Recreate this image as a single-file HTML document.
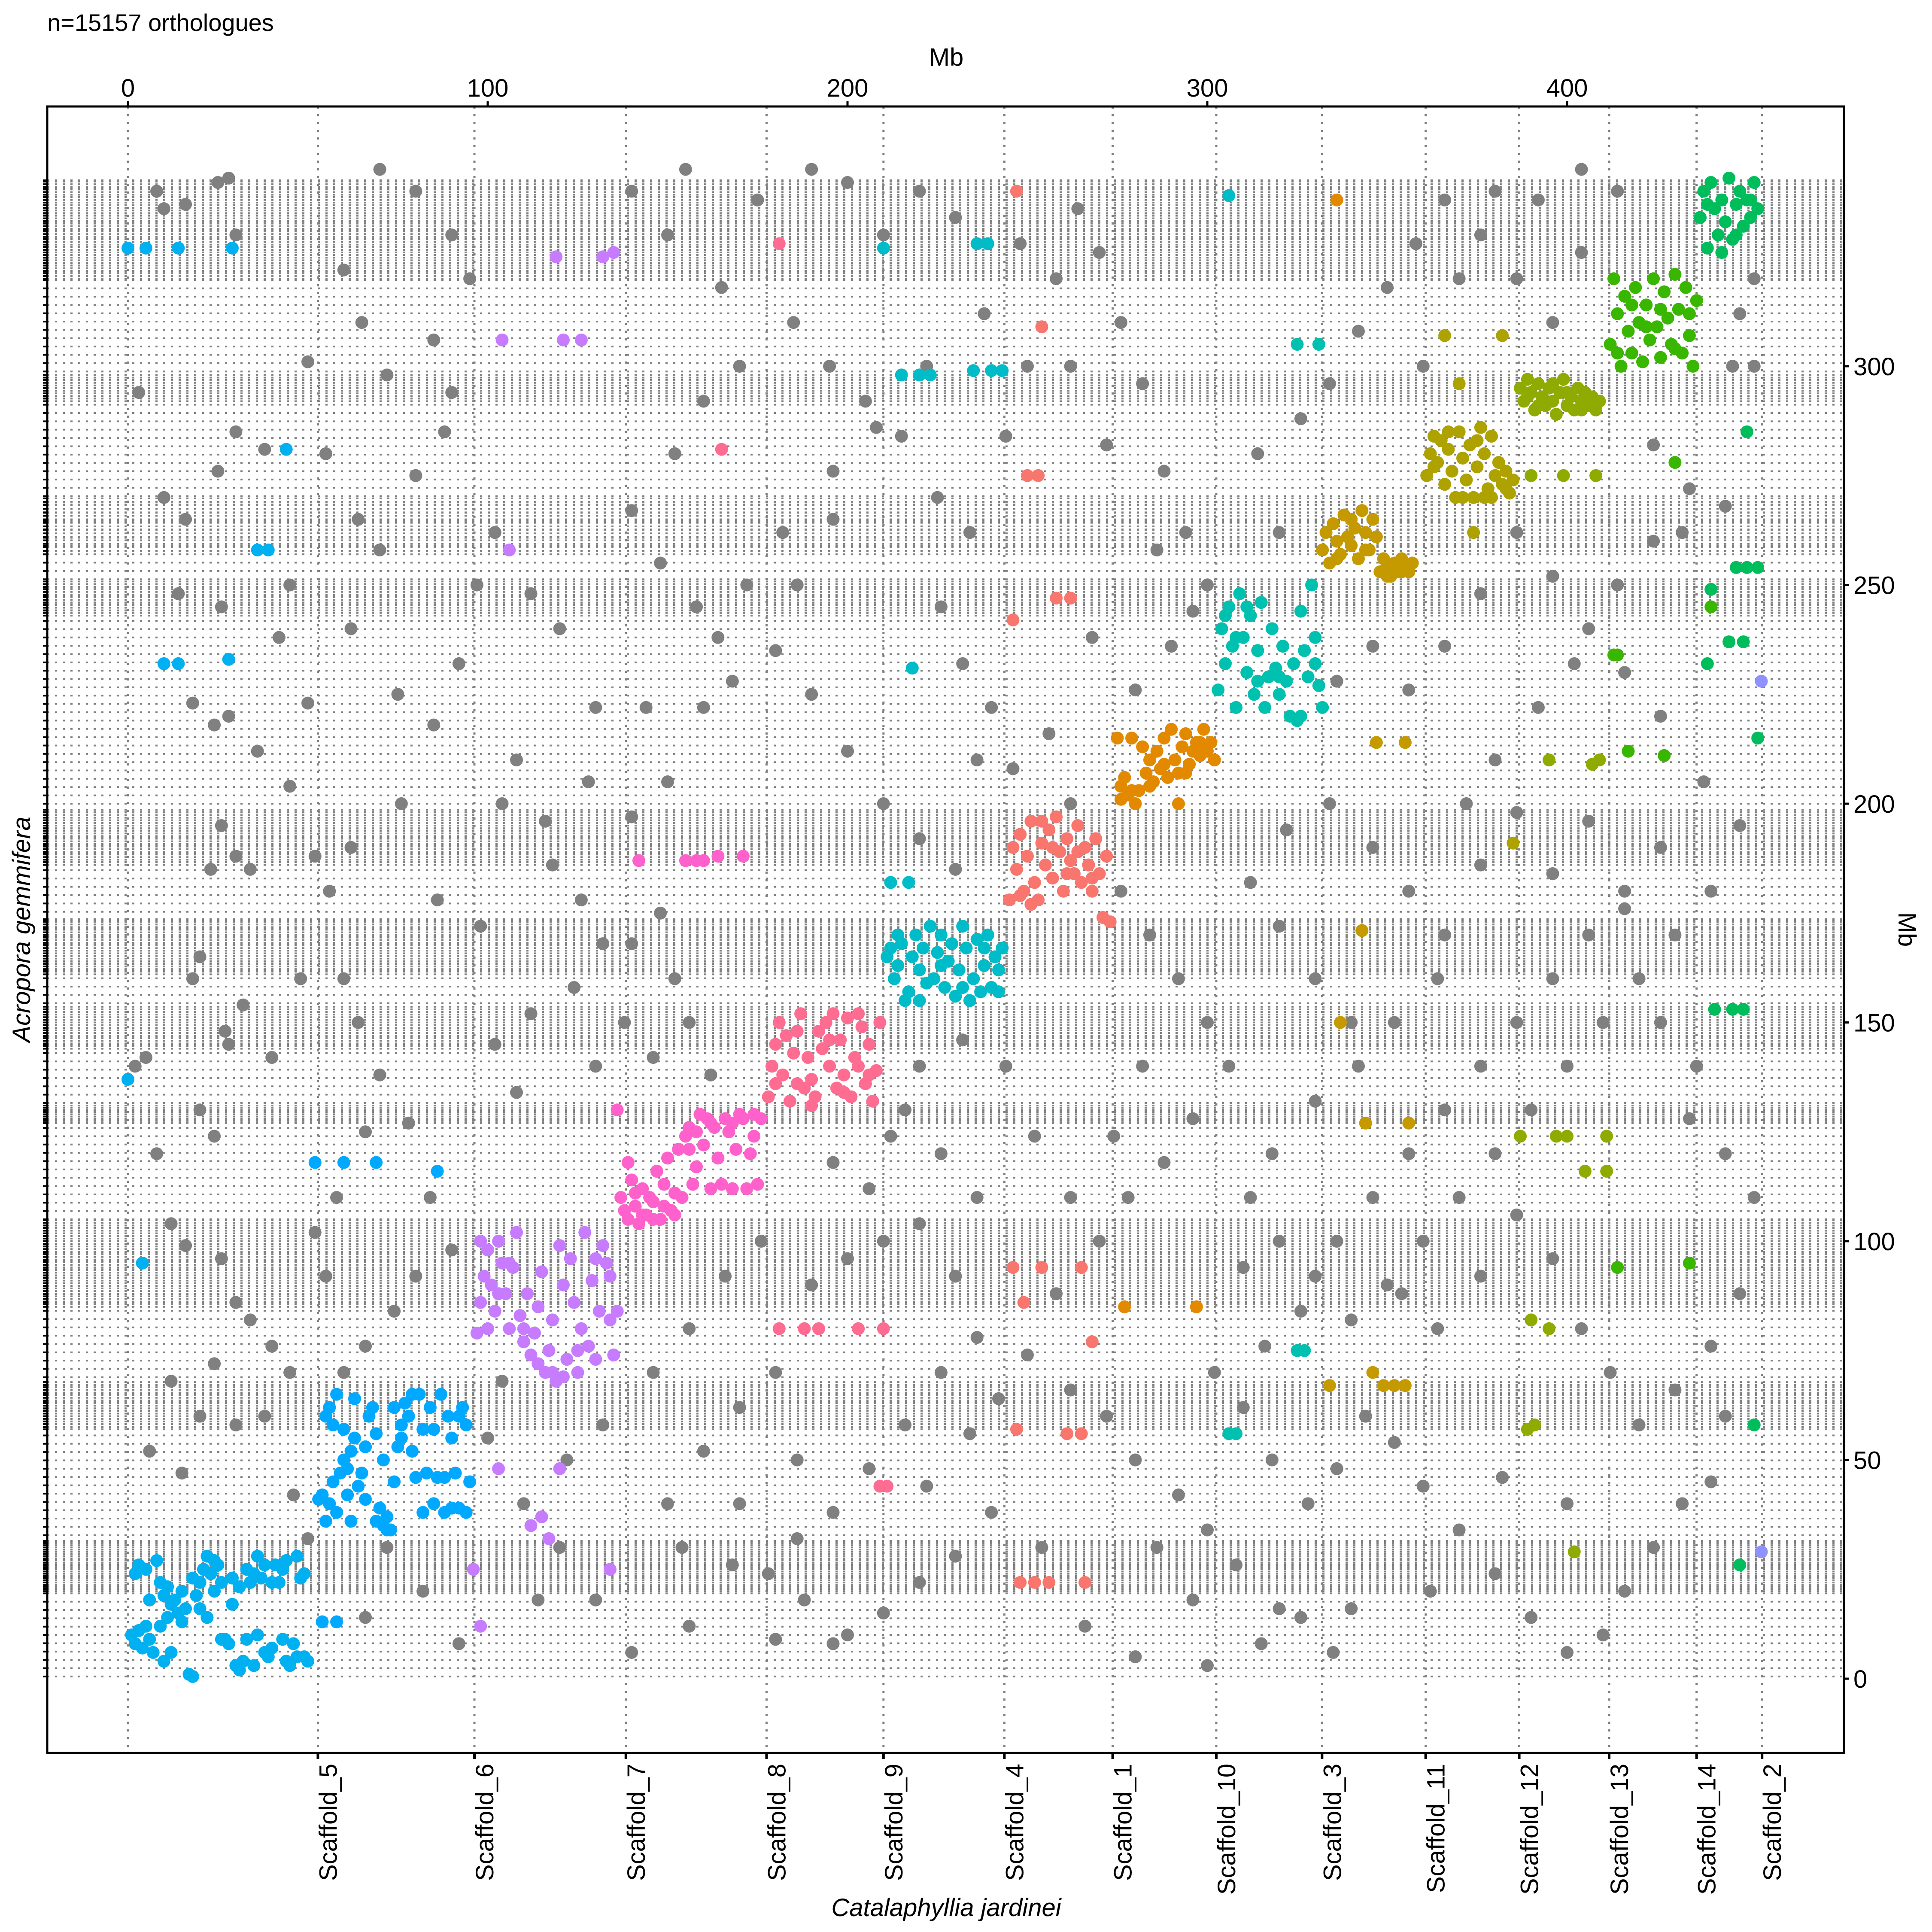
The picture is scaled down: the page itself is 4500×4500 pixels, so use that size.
<!DOCTYPE html>
<html><head><meta charset="utf-8"><title>Oxford dot plot</title>
<style>html,body{margin:0;padding:0;background:#fff}svg{display:block}text{font-family:"Liberation Sans",sans-serif;fill:#000}</style>
</head><body>
<svg id="chart" width="4500" height="4500" viewBox="0 0 4500 4500" xmlns="http://www.w3.org/2000/svg">
<rect x="0" y="0" width="4500" height="4500" fill="#fff"/>
<g id="grid"></g>
<g id="points"></g>
<g id="axes"></g>
<rect x="110" y="248" width="4185" height="3835" fill="none" stroke="#000" stroke-width="5"/>
<text x="110" y="72" font-size="56">n=15157 orthologues</text>
<text x="2204" y="153" font-size="58" text-anchor="middle">Mb</text>
<text x="2204" y="4463" font-size="58" font-style="italic" text-anchor="middle">Catalaphyllia jardinei</text>
<text transform="translate(70,2165) rotate(-90)" font-size="58" font-style="italic" text-anchor="middle">Acropora gemmifera</text>
<text transform="translate(4422,2165) rotate(90)" font-size="58" text-anchor="middle">Mb</text>
</svg>
<script>
const xTicks=[0,100,200,300,400];
const yTicks=[0,50,100,150,200,250,300];
const scaffoldNames=["Scaffold_5","Scaffold_6","Scaffold_7","Scaffold_8","Scaffold_9","Scaffold_4","Scaffold_1","Scaffold_10","Scaffold_3","Scaffold_11","Scaffold_12","Scaffold_13","Scaffold_14","Scaffold_2"];
const scaffoldEnds=[52.8,96.3,138.4,177.5,210,243.6,273.7,302.5,331.9,360.7,386.7,411.7,436,454.2];
const gridBands=[[0.5,343,1.9],[320,342.5,0.6],[292,298,0.6],[257,270,0.8],[243,251,0.6],[186,199,0.6],[161,174,0.6],[144,154,0.6],[127,131.5,0.5],[85,105,0.6],[57,68,0.6],[20,31.5,0.5]];
const groupColors={a:"#00B0F0",b:"#00A9FF",c:"#C77CFF",d:"#FF61CC",e:"#FF6C91",f:"#00BCC8",g:"#F8766D",h:"#E38900",i:"#00C0AF",j:"#C49A00",k:"#ADA200",l:"#8FAA00",m:"#39B600",n:"#00BD5C",o:"#8F91FF",z:"#808080"};
const grpA=[[1,10],[2,8],[3,11],[4,7],[5,12],[6,9],[3,26],[5,25],[8,27],[9,22],[10,19],[12,17],[11,14],[13,18],[14,15],[15,20],[16,16],[17,1],[18,0.5],[19,19],[20,16],[21,25],[22,28],[23,24],[24,20],[25,26],[26,22],[27,9],[28,8],[30,3],[31,2],[32,4],[33,25],[34,22],[35,24],[36,28],[37,23],[38,6],[39,5],[40,7],[41,26],[42,22],[43,25],[44,4],[45,3],[46,8],[47,28],[48,23],[49,5],[50,4],[7,6],[10,4],[26,9],[29,17],[36,10],[43,9],[2,24],[6,18],[9,12],[11,21],[15,13],[18,23],[22,14],[24,27],[29,23],[31,21],[33,9],[35,3],[38,26],[40,22],[44,27],[47,5],[49,24],[12,6],[20,22],[0,137],[4,95],[0,327],[5,327],[14,327],[29,327],[10,232],[14,232],[28,233],[36,258],[39,258],[44,281]];
const grpB=[[53,41],[54,42],[55,36],[56,40],[57,45],[58,38],[57,58],[56,62],[58,65],[60,50],[61,48],[62,52],[63,55],[62,36],[64,44],[65,47],[66,41],[67,60],[68,62],[69,56],[70,39],[71,35],[72,37],[73,34],[74,45],[75,53],[76,58],[77,63],[78,60],[79,52],[80,46],[81,65],[82,57],[83,47],[84,62],[85,40],[86,46],[87,65],[88,38],[89,60],[90,55],[91,47],[92,39],[93,62],[94,58],[95,45],[55,60],[59,47],[61,42],[63,64],[66,53],[69,36],[72,34],[74,62],[76,55],[79,65],[82,38],[85,57],[88,46],[90,39],[92,60],[94,38],[71,50],[60,57],[54,13],[58,13],[52,118],[60,118],[69,118],[86,116]];
const grpC=[[97,79],[98,86],[99,92],[100,98],[101,90],[102,84],[103,100],[104,95],[105,88],[106,80],[107,94],[108,102],[109,83],[110,77],[111,88],[112,74],[113,79],[114,85],[115,93],[116,70],[117,75],[118,82],[119,68],[120,99],[121,90],[122,73],[123,96],[124,86],[125,70],[126,80],[127,102],[128,76],[129,91],[130,73],[131,84],[132,99],[133,95],[134,82],[135,74],[136,84],[98,100],[100,80],[103,88],[106,95],[110,80],[114,72],[118,70],[121,69],[125,75],[130,96],[134,92],[103,48],[98,12],[112,35],[115,37],[117,32],[96,25],[120,48],[134,25],[104,306],[106,258],[119,325],[121,306],[126,306],[132,325],[135,326]];
const grpD=[[137,110],[138,107],[139,118],[140,114],[141,108],[142,104],[143,112],[144,106],[145,110],[146,109],[147,116],[148,105],[149,113],[150,119],[151,107],[152,111],[153,121],[154,110],[155,124],[156,126],[157,113],[158,117],[159,129],[160,122],[161,128],[162,112],[163,126],[164,119],[165,113],[166,128],[167,125],[168,112],[169,121],[170,129],[171,128],[172,112],[173,120],[174,124],[175,113],[176,128],[139,105],[141,111],[143,106],[146,105],[149,108],[152,106],[156,121],[158,125],[162,127],[168,127],[174,129],[136,130],[142,187],[155,187],[158,187],[160,187],[164,188],[171,188]];
const grpE=[[178,133],[179,140],[180,145],[181,150],[182,138],[183,147],[184,132],[185,143],[186,136],[187,152],[188,135],[189,142],[190,137],[191,133],[192,148],[193,144],[194,150],[195,140],[196,152],[197,135],[198,146],[199,138],[200,151],[201,133],[202,142],[203,140],[204,149],[205,136],[206,145],[207,132],[208,139],[209,150],[180,136],[186,148],[190,131],[195,146],[199,134],[203,152],[206,138],[181,80],[188,80],[192,80],[203,80],[210,80],[181,328],[165,281],[209,44],[211,44]];
const grpF=[[211,165],[212,167],[213,160],[214,163],[215,168],[216,155],[217,157],[218,165],[219,170],[220,162],[221,167],[222,159],[223,172],[224,160],[225,166],[226,170],[227,158],[228,164],[229,168],[230,156],[231,162],[232,172],[233,167],[234,155],[235,160],[236,169],[237,157],[238,163],[239,170],[240,158],[241,165],[242,162],[243,167],[214,170],[220,155],[226,163],[232,158],[238,167],[242,157],[212,182],[217,182],[215,298],[220,298],[223,298],[235,299],[240,299],[243,299],[236,328],[239,328],[210,327],[218,231],[306,339]];
const grpG=[[245,178],[246,190],[247,185],[248,193],[249,180],[250,188],[251,196],[252,182],[253,178],[254,191],[255,186],[256,194],[257,183],[258,197],[259,189],[260,180],[261,192],[262,187],[263,184],[264,195],[265,182],[266,190],[267,186],[268,180],[269,192],[270,184],[271,174],[272,188],[273,173],[248,179],[251,177],[254,196],[257,190],[261,184],[264,189],[268,183],[246,242],[250,275],[253,275],[258,247],[262,247],[254,309],[247,340],[246,94],[254,94],[265,94],[248,22],[252,22],[256,22],[261,56],[265,56],[266,22],[268,77],[247,57],[249,86]];
const grpH=[[275,215],[276,204],[277,206],[278,202],[279,215],[280,200],[281,203],[282,213],[283,207],[284,210],[285,205],[286,212],[287,208],[288,215],[289,206],[290,217],[291,210],[292,207],[293,213],[294,216],[295,209],[296,212],[297,214],[298,211],[299,217],[300,212],[301,214],[302,210],[276,201],[279,203],[284,204],[288,209],[294,207],[298,214],[292,200],[297,85],[277,85],[336,338]];
const grpI=[[303,226],[304,240],[305,232],[306,245],[307,236],[308,222],[309,248],[310,238],[311,230],[312,243],[313,225],[314,235],[315,246],[316,222],[317,229],[318,240],[319,231],[320,225],[321,236],[322,228],[323,220],[324,232],[325,219],[326,244],[327,235],[328,229],[329,250],[330,238],[331,227],[332,222],[305,243],[308,238],[311,245],[314,228],[320,229],[326,220],[330,232],[306,56],[308,56],[325,305],[331,305],[325,75],[327,75]];
const grpJ=[[332,258],[333,262],[334,255],[335,264],[336,260],[337,257],[338,266],[339,261],[340,259],[341,263],[342,256],[343,267],[344,262],[345,258],[346,265],[347,261],[348,253],[349,256],[350,254],[351,252],[352,255],[353,253],[354,256],[355,254],[356,253],[357,255],[336,256],[340,265],[344,258],[350,252],[354,253],[346,70],[349,67],[352,67],[355,67],[344,127],[356,127],[343,171],[347,214],[355,214],[337,150],[334,67]];
const grpK=[[361,275],[362,280],[363,284],[364,278],[365,283],[366,273],[367,281],[368,276],[369,270],[370,285],[371,279],[372,274],[373,282],[374,270],[375,277],[376,286],[377,280],[378,272],[379,284],[380,275],[381,278],[382,273],[383,276],[384,271],[385,274],[363,277],[367,285],[371,270],[375,283],[379,270],[383,272],[370,296],[366,307],[374,262],[382,307],[385,191],[377,270]];
const grpL=[[387,295],[388,292],[389,297],[390,294],[391,290],[392,296],[393,293],[394,291],[395,295],[396,292],[397,289],[398,294],[399,297],[400,291],[401,293],[402,290],[403,295],[404,292],[405,294],[406,291],[407,293],[408,290],[409,292],[389,293],[392,291],[396,296],[400,294],[404,290],[390,275],[399,275],[408,275],[387,124],[397,124],[400,124],[411,124],[390,82],[395,80],[389,57],[391,58],[402,29],[405,116],[411,116],[395,210],[409,210],[407,209]];
const grpM=[[412,305],[413,320],[414,312],[415,300],[416,316],[417,308],[418,303],[419,318],[420,310],[421,301],[422,314],[423,306],[424,320],[425,309],[426,302],[427,317],[428,311],[429,305],[430,321],[431,313],[432,303],[433,318],[434,307],[435,300],[436,315],[414,303],[418,314],[422,309],[426,313],[430,304],[434,312],[413,234],[414,234],[414,94],[417,212],[427,211],[434,95],[430,278],[440,245]];
const grpN=[[437,334],[438,340],[439,327],[440,342],[441,336],[442,330],[443,338],[444,333],[445,343],[446,329],[447,337],[448,340],[449,332],[450,338],[451,334],[452,342],[453,336],[439,337],[443,326],[447,330],[451,338],[440,249],[447,254],[450,254],[453,254],[445,237],[449,237],[446,153],[449,153],[441,153],[452,58],[453,215],[450,285],[439,232],[448,26]];
const grpO=[[454,228],[454,29]];
const grpZ=[[8,340],[10,336],[16,337],[25,342],[28,343],[30,330],[14,248],[18,223],[26,245],[28,220],[24,218],[26,195],[23,185],[30,188],[34,185],[20,165],[18,160],[28,145],[27,148],[32,154],[5,142],[2,140],[8,120],[12,104],[16,99],[26,96],[30,86],[34,82],[40,76],[45,70],[38,60],[30,58],[20,60],[15,47],[6,52],[12,68],[24,72],[46,42],[50,32],[3,294],[10,270],[16,265],[25,276],[30,285],[38,281],[45,250],[42,238],[50,223],[36,212],[45,204],[52,188],[56,180],[60,160],[64,150],[70,138],[66,125],[78,127],[84,110],[90,98],[80,92],[74,84],[66,76],[60,70],[55,92],[52,102],[58,110],[64,265],[70,258],[80,275],[88,285],[90,294],[72,298],[85,306],[95,320],[90,330],[80,340],[70,345],[60,322],[65,310],[50,301],[55,280],[62,240],[75,225],[85,218],[92,232],[97,250],[102,262],[112,248],[120,240],[130,222],[108,210],[104,200],[118,186],[126,178],[132,168],[124,158],[112,152],[102,145],[108,134],[130,140],[138,150],[140,168],[148,175],[152,160],[146,142],[156,150],[162,138],[140,197],[150,205],[160,222],[168,228],[158,245],[148,255],[140,267],[152,280],[160,292],[170,300],[165,318],[150,330],[140,340],[155,345],[175,338],[190,345],[200,342],[210,330],[220,340],[230,334],[185,310],[195,300],[205,292],[215,284],[225,270],[196,265],[186,250],[180,235],[190,225],[200,212],[210,200],[220,192],[230,185],[236,210],[240,222],[232,232],[226,245],[234,262],[244,284],[250,300],[258,320],[264,336],[270,326],[276,310],[282,296],[288,276],[294,262],[300,250],[290,236],[280,226],[276,180],[284,170],[292,160],[300,150],[306,140],[296,128],[288,118],[278,110],[270,100],[258,88],[250,74],[262,66],[272,60],[280,50],[292,42],[300,34],[308,26],[320,16],[326,14],[315,8],[300,3],[280,5],[266,12],[254,30],[240,38],[230,28],[220,22],[210,15],[200,10],[188,18],[178,24],[168,26],[180,9],[196,8],[156,12],[140,6],[130,18],[120,30],[110,40],[100,55],[104,68],[150,40],[160,52],[170,62],[180,70],[190,90],[200,96],[210,100],[220,104],[230,92],[236,78],[226,70],[216,58],[206,48],[196,38],[186,32],[236,110],[226,120],[216,130],[206,112],[196,118],[312,110],[320,100],[330,92],[340,82],[350,90],[360,100],[370,110],[380,120],[390,130],[400,140],[410,150],[420,160],[430,170],[440,180],[448,195],[438,205],[426,220],[416,230],[406,240],[396,252],[386,262],[376,248],[366,236],[356,226],[346,236],[336,228],[320,262],[314,280],[326,288],[334,296],[342,308],[350,318],[358,328],[366,338],[376,330],[386,320],[396,310],[404,326],[414,340],[424,282],[432,262],[444,268],[452,300],[452,320],[444,60],[440,45],[432,40],[424,30],[416,20],[410,10],[400,6],[390,14],[380,24],[370,34],[360,44],[352,54],[344,60],[336,48],[328,40],[318,50],[310,62],[302,70],[316,76],[326,84],[336,100],[346,110],[356,120],[366,130],[376,140],[386,150],[396,160],[406,170],[416,176],[426,190],[434,128],[444,120],[452,110],[448,88],[440,76],[430,66],[420,58],[412,70],[404,80],[396,96],[386,106],[376,92],[364,80],[354,88],[340,150],[330,160],[320,172],[312,182],[322,194],[334,200],[346,190],[356,180],[366,170],[376,186],[386,198],[396,184],[406,196],[416,180],[426,150],[436,140],[400,40],[382,46],[362,20],[340,16],[335,6],[20,130],[24,124],[40,142],[48,160],[62,190],[76,200],[86,178],[98,172],[116,196],[128,205],[144,222],[164,238],[172,250],[182,262],[196,276],[208,286],[222,300],[238,312],[248,328],[262,300],[272,282],[286,258],[296,244],[268,238],[256,216],[246,208],[262,200],[282,140],[274,124],[262,110],[252,124],[244,140],[232,146],[220,140],[212,124],[176,100],[166,92],[156,80],[146,70],[132,58],[122,50],[114,18],[92,8],[82,20],[72,30],[66,14],[154,30],[170,40],[186,50],[222,44],[234,56],[242,64],[286,30],[296,18],[310,94],[318,120],[330,132],[342,140],[352,150],[364,160],[372,200],[380,210],[392,222],[402,232],[414,250],[424,260],[434,272],[446,300],[448,312],[360,300],[370,320],[380,340],[392,338],[404,345]];
const groups=[["a",grpA],["b",grpB],["c",grpC],["d",grpD],["e",grpE],["f",grpF],["g",grpG],["h",grpH],["i",grpI],["j",grpJ],["k",grpK],["l",grpL],["m",grpM],["n",grpN],["o",grpO]];

const NS="http://www.w3.org/2000/svg";
const X0=298, XK=8.38, Y0=3910, YK=10.19, L=110, R=4295, T=248, B=4083;
function sx(v){return X0+v*XK;}
function sy(v){return Y0-v*YK;}
function mk(tag,attrs,parent){const e=document.createElementNS(NS,tag);for(const k in attrs)e.setAttribute(k,attrs[k]);parent.appendChild(e);return e;}
const grid=document.getElementById('grid'), pts=document.getElementById('points'), axes=document.getElementById('axes');

const ys=[];
gridBands.forEach(b=>{for(let v=b[0];v<=b[1]+1e-6;v+=b[2])ys.push(v);});
ys.forEach(v=>{
  const ln=mk('line',{x1:L,x2:R,y1:sy(v),y2:sy(v),stroke:'#808080','stroke-width':4,'stroke-dasharray':'5 13'},grid);
  
  
  const tk=mk('line',{x1:L-10,x2:L,y1:sy(v),y2:sy(v),stroke:'#000','stroke-width':4},axes);
  
  
});
[0].concat(scaffoldEnds).forEach(v=>{
  const ln=mk('line',{x1:sx(v),x2:sx(v),y1:T,y2:B,stroke:'#808080','stroke-width':5,'stroke-dasharray':'5 13'},grid);
  
  
});
function drawPts(arr,col,name){arr.forEach(p=>{
  const c=mk('circle',{cx:sx(p[0]),cy:sy(p[1]),r:15,fill:col},pts);
  
  
});}
drawPts(grpZ,groupColors.z,'gray-point');
groups.forEach(g=>drawPts(g[1],groupColors[g[0]],'point-group-'+g[0]));
xTicks.forEach(v=>{
  const tk=mk('line',{x1:sx(v),x2:sx(v),y1:T-12,y2:T,stroke:'#000','stroke-width':5},axes);
  
  
  const t=mk('text',{x:sx(v),y:225,'font-size':58,'text-anchor':'middle'},axes);
  t.textContent=v;
  
  
});
yTicks.forEach(v=>{
  const tk=mk('line',{x1:R,x2:R+12,y1:sy(v),y2:sy(v),stroke:'#000','stroke-width':5},axes);
  
  
  const t=mk('text',{x:R+22,y:sy(v)+21,'font-size':58},axes);
  t.textContent=v;
  
  
});
scaffoldEnds.forEach((v,i)=>{
  const tk=mk('line',{x1:sx(v),x2:sx(v),y1:B,y2:B+14,stroke:'#000','stroke-width':6},axes);
  
  
  const t=mk('text',{transform:'translate('+(sx(v)+44)+',4108) rotate(-90)','font-size':58,'text-anchor':'end'},axes);
  t.textContent=scaffoldNames[i];
  
  
});
</script>
</body></html>
